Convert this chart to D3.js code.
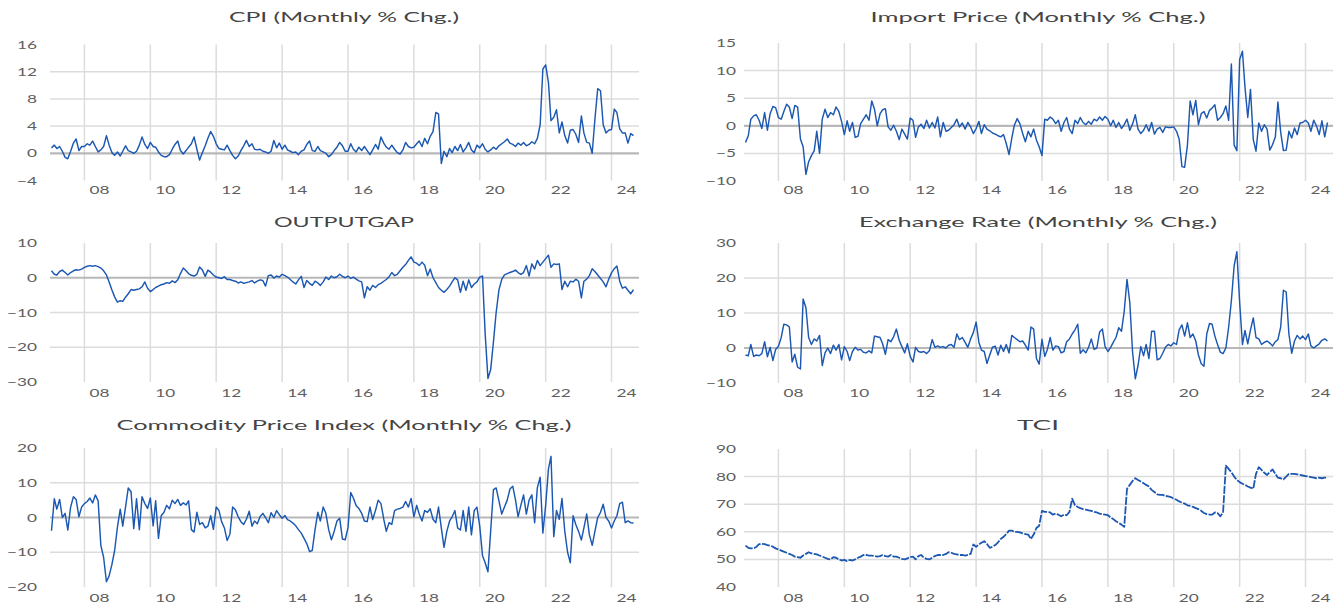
<!DOCTYPE html>
<html>
<head>
<meta charset="utf-8">
<script src="https://cdn.jsdelivr.net/npm/d3@7"></script>
<style>
  html, body { margin: 0; padding: 0; background: #ffffff; }
  svg { display: block; }
  text { font-family: Lato, "Open Sans", "Liberation Sans", sans-serif; }
</style>
</head>
<body>
<svg id="chart" width="1338" height="604"></svg>
<script>
// Monthly observations, January 2007 to September 2024 (one row per year)
const cpi = [
  0.8, 1.2, 0.7, 1.0, 0.3, -0.6, -0.8, 0.3, 1.5, 2.1, 0.4, 1.0,
  1.0, 1.4, 1.2, 1.8, 1.0, 0.2, 0.5, 1.0, 2.6, 1.2, 0.1, -0.3,
  0.2, -0.4, 0.3, 1.1, 0.4, 0.2, 0.0, 0.3, 1.2, 2.4, 1.3, 0.7,
  1.6, 1.0, 0.9, 0.2, -0.3, -0.5, -0.5, -0.2, 0.6, 1.3, 1.8, 0.4,
  -0.1, 0.4, 0.9, 1.4, 2.4, 0.6, -1.0, 0.1, 1.1, 2.2, 3.2, 2.5,
  1.4, 0.7, 0.6, 0.5, 1.2, 0.4, -0.3, -0.8, -0.4, 0.4, 1.1, 1.9,
  1.0, 1.4, 0.6, 0.5, 0.6, 0.3, 0.2, 0.0, 0.3, 1.9, 0.8, 1.5,
  0.6, 1.2, 0.5, 0.3, 0.1, 0.2, -0.2, 0.3, 0.5, 1.3, 1.8, 0.4,
  0.3, 1.0, 0.4, 0.2, 0.0, -0.5, -0.2, 0.4, 0.9, 1.6, 1.1, 0.3,
  0.3, 1.4, 0.6, 0.2, 0.9, 0.4, 1.0, 0.4, -0.2, 0.5, 1.3, 0.6,
  2.4, 1.5, 0.9, 0.6, 1.2, 0.6, 0.1, -0.1, 0.5, 1.6, 1.0, 0.8,
  0.9, 1.4, 1.8, 1.0, 2.2, 1.4, 2.5, 3.2, 6.0, 5.8, -1.5, 0.3,
  -0.5, 0.7, 0.1, 1.0, 0.4, 1.3, 0.2, 0.8, 1.6, 0.5, 0.1, 1.2,
  0.8, 1.4, 0.6, 0.2, 0.5, 0.9, 0.6, 1.1, 1.4, 1.7, 2.1, 1.5,
  1.3, 1.0, 1.5, 1.2, 1.6, 1.1, 1.3, 1.7, 1.4, 2.2, 4.2, 12.4,
  13.0, 10.4, 4.8, 5.3, 6.4, 3.0, 4.6, 2.6, 1.5, 3.4, 3.5, 2.8,
  1.6, 5.5, 3.0, 1.6, 1.5, 0.0, 5.0, 9.5, 9.2, 4.2, 3.0, 3.4,
  3.5, 6.5, 6.0, 3.6, 3.0, 3.0, 1.5, 2.9, 2.6
];

const importPrice = [
  -3.0, -1.8, 1.2, 1.8, 2.0, 1.0, -0.5, 2.4, -0.8, 2.2, 3.5, 3.3,
  1.5, 1.2, 2.6, 3.9, 3.4, 1.3, 3.7, 3.4, -2.4, -3.8, -8.8, -6.5,
  -5.4, -4.5, -1.0, -5.0, 1.2, 3.0, 1.5, 2.4, 2.0, 3.4, 2.6, 0.8,
  -1.6, 0.9, -1.0, 0.6, -2.1, -1.9, 0.4, 1.2, 2.0, 1.0, 4.5, 3.0,
  0.0, 2.2, 2.9, 3.1, -0.2, -0.8, 0.1, -1.0, -2.5, -0.6, -1.5, -2.4,
  1.4, 1.0, -2.1, -0.2, 0.3, -0.5, 1.0, -0.4, 0.6, -0.4, 1.6, -2.0,
  0.6, -1.0, -0.8, -0.3, 0.2, 1.2, -0.2, 0.5, -0.6, 0.6, -0.2, -1.4,
  -0.5, 0.8, -1.4, 0.2, -0.6, -0.9, -1.3, -1.5, -1.8, -2.0, -1.6, -3.2,
  -5.2, -2.2, 0.1, 1.3, 0.4, -1.4, -2.9, -1.0, -2.0, -0.6, -2.6, -3.8,
  -5.4, 1.2, 1.0, 1.6, 1.2, 0.4, 1.0, -1.0, 0.6, 1.5, -0.6, -1.4,
  1.0, 0.4, 1.5, 0.6, 0.2, 0.8, 0.3, 1.2, 0.9, 1.6, 1.0, 1.7,
  1.2, 0.0, 1.0, -0.3, 0.6, -0.5, 0.2, 1.2, -0.8, 0.3, 2.0, -0.6,
  -1.4, -0.8, 0.2, -1.0, 0.6, -1.5, -0.6, -0.3, -1.2, -0.2, -0.3, -0.3,
  -0.2, -1.0, -2.4, -7.4, -7.5, -3.5, 4.5, 2.0, 4.6, 0.2, 2.2, 2.6,
  1.4, 2.8, 3.2, 3.8, 1.0, 1.5, 2.2, 3.6, 1.0, 11.2, -3.5, -4.5,
  12.0, 13.5, 7.0, 1.5, 6.6, -2.5, -4.6, 0.5, -1.0, 0.2, -0.6, -4.4,
  -3.4, -2.0, 4.3, -1.2, -4.5, -4.4, -1.0, -2.2, -0.4, -1.6, 0.5, 0.6,
  1.0, 0.5, -1.0, 1.0, 0.0, -1.6, 0.9, -2.0, 0.6
];

const outputGap = [
  2.0, 1.0, 0.8, 1.8, 2.2, 1.5, 0.8, 1.5, 2.0, 2.3, 2.2, 2.5,
  3.0, 3.3, 3.5, 3.3, 3.5, 3.2, 2.8, 2.0, 0.8, -1.2, -3.5, -5.5,
  -7.0, -6.6, -6.8, -5.6, -4.6, -3.4, -3.6, -3.4, -3.2, -2.6, -1.2, -3.0,
  -4.0, -3.4, -2.8, -2.4, -2.0, -1.8, -1.4, -1.6, -0.9, -1.4, -0.6, 1.2,
  2.8, 2.0, 1.2, 0.7, 0.5, 1.0, 3.1, 2.2, 0.4, 2.2, 1.6, 0.8,
  0.2, 0.0, -0.2, 0.3, -0.5, -0.5, -0.8, -1.0, -1.5, -1.2, -1.6, -1.4,
  -1.2, -0.8, -1.5, -1.0, -0.6, -0.8, -2.4, 0.6, 0.8, -0.1, 0.5, 0.2,
  1.0, 0.6, 0.2, -0.5, -1.2, -1.8, -0.6, 0.4, -2.8, -0.8, -1.6, -2.2,
  -1.0, -1.5, -2.2, -1.2, 0.2, -0.5, 0.5, 0.0, 0.3, 1.0, 0.4, 0.0,
  0.5, -0.2, 0.2, -0.4, -0.9, -1.2, -5.8, -2.6, -3.6, -2.2, -2.8, -2.0,
  -1.6, -1.0, -0.5, 0.3, 1.5, 0.6, 1.0, 2.0, 3.0, 3.8, 5.0, 6.0,
  4.5, 4.2, 3.5, 4.5, 3.6, 0.6, 2.5, 0.0, -1.4, -2.8, -3.6, -4.2,
  -3.4, -2.4, -1.2, 0.0, -0.6, -4.2, -1.0, -3.6, -0.6, -2.8, -1.8, -1.2,
  0.2, 0.5, -16.0, -29.0, -26.5, -18.5, -10.0, -3.5, -0.5, 0.8, 1.2, 1.5,
  1.8, 2.2, 1.5, 1.0, 1.5, 3.5, 0.5, 4.0, 2.5, 5.0, 3.5, 4.5,
  5.5, 6.5, 3.0, 4.0, 3.8, 4.0, -3.4, -1.0, -2.6, -1.0, -1.2, -0.4,
  -1.0, -5.8, -1.0, -0.4, 0.6, 2.6, 1.8, 0.8, -0.2, -1.2, -2.6, -0.4,
  1.4, 2.6, 3.4, -1.0, -3.0, -2.6, -3.6, -4.6, -3.4
];

const exchangeRate = [
  -2.0, -2.2, 1.0, -2.4, -2.0, -2.2, -1.6, 1.8, -2.5, 0.2, -3.6, -0.4,
  0.5, 3.0, 6.8, 6.6, 6.0, -4.0, -1.8, -5.5, -6.0, 14.0, 11.5, 3.0,
  1.0, 2.6, 2.0, 3.6, -5.0, -1.4, 0.0, -1.6, 0.8, -0.6, 1.0, -3.4,
  0.4, -1.0, -3.6, -1.0, 0.2, -0.6, -0.4, -1.2, -1.4, -0.8, -1.4, 3.4,
  3.2, 3.0, 1.2, -1.8, 2.4, 1.8, 3.2, 5.4, 2.2, 0.4, -1.4, 1.2,
  -2.4, -4.0, 0.2, -1.0, -1.2, -1.0, -1.6, -0.8, 2.4, 0.2, 0.6, 0.2,
  0.4, 0.0, 0.8, 1.0, 0.2, 4.0, 2.4, 3.0, 1.6, 0.2, 2.6, 4.4,
  7.4, 1.6, -0.6, -1.0, -4.4, -2.0, 0.2, 0.5, -2.0, 0.8, -1.0, 1.0,
  -1.4, 3.6, 3.0, 2.4, 1.8, 2.0, 0.8, -0.6, 6.0, 5.4, -3.0, -4.6,
  2.5, -2.4, -0.4, 3.0, -0.6, 0.6, 0.4, -1.4, -1.0, 1.8, 2.6, 4.0,
  5.2, 6.8, -1.5, -0.5, -1.4, 0.2, 2.6, -0.4, 0.0, 4.6, 5.4, 0.4,
  -1.0, 0.2, 1.6, 3.0, 5.8, 4.8, 10.5, 19.6, 13.0, -1.0, -8.8, -5.0,
  0.4, -2.2, 1.0, -3.0, 4.8, 4.8, -3.4, -3.0, -1.5, 0.2, 1.0, 0.6,
  1.5, 1.0, 5.2, 6.6, 3.4, 7.2, 3.0, 4.0, 2.0, -2.0, -4.5, -5.2,
  4.0, 7.0, 6.8, 3.4, 1.0, -1.2, -1.6, 0.0, 6.0, 13.5, 23.5, 27.5,
  13.0, 1.0, 5.0, 1.2, 5.2, 8.6, 3.0, 2.6, 1.0, 1.6, 2.0, 1.4,
  0.6, 1.8, 2.4, 6.0, 16.5, 16.0, 4.0, -1.5, 2.0, 3.6, 2.6, 3.4,
  2.4, 4.0, 0.6, 0.0, 0.6, 1.2, 2.2, 2.6, 2.0
];

const commodityPrice = [
  -3.8, 5.4, 2.4, 5.2, 0.0, 1.2, -3.6, 3.0, 6.0, 5.2, 0.2, 3.0,
  4.0, 4.6, 5.6, 4.2, 6.5, 4.8, -8.0, -11.5, -18.5, -16.8, -13.5, -9.5,
  -2.8, 2.4, -2.5, 3.0, 8.5, 7.4, -3.2, 5.4, -3.5, 6.0, 4.0, 2.6,
  5.6, -2.4, 4.8, -6.0, 0.5, 1.5, 3.5, 2.5, 5.0, 4.0, 5.2, 3.5,
  4.2, 3.6, 4.8, -3.5, -4.2, 1.5, -2.0, -1.5, -3.0, -2.5, 0.5, -3.4,
  3.0, 2.0, -1.2, -3.0, -6.6, -4.8, 3.0, 2.2, 0.2, -1.2, -2.0, -0.5,
  1.8, -2.5, -1.0, -1.8, 0.2, 1.2, 0.0, -1.5, 1.4, 0.0, 2.0, 0.8,
  -0.2, 0.6, -0.6, -1.0, -1.6, -2.4, -3.5, -4.5, -6.0, -7.5, -9.8, -9.5,
  -3.5, 1.5, -1.0, 3.0, 1.2, -3.5, -6.4, -4.0, -1.0, -0.2, -6.2, -6.4,
  -3.0, 7.2, 5.6, 3.4, 2.6, 1.2, -1.0, -1.2, 3.0, -0.6, 2.0, 5.0,
  4.0, -0.5, -4.0, -1.5, -2.0, 2.0, 2.4, 2.6, 3.0, 4.6, 3.0, 5.5,
  0.2, 3.5, 1.0, -1.0, 2.0, 1.5, 2.5, -0.5, -1.5, 3.0, -3.0, -8.6,
  -4.0, -1.0, 0.2, 2.0, -3.0, -3.6, 2.0, -4.0, 3.0, -5.0, 2.0, 3.0,
  -2.5, -11.0, -13.0, -15.6, -4.0, 8.0, 8.5, 4.8, 1.0, 3.0, 5.0, 8.2,
  9.0, 5.0, 0.2, 3.5, 6.5, 1.0, 5.0, 6.5, -1.5, 8.6, 11.6, -4.5,
  3.5, 14.0, 17.6, -5.5, 2.0, -0.5, 5.5, -4.0, -10.0, -13.0, 0.5, -2.0,
  -4.0, -6.5, -3.0, 1.0, -5.0, -8.0, -4.0, 0.0, 1.5, 3.8, 0.0, -1.0,
  -3.0, -1.0, 0.5, 4.0, 4.4, -1.5, -1.0, -1.5, -1.6
];

const tci = [
  55.0, 54.2, 54.0, 54.0, 54.5, 55.5, 55.6, 55.5, 55.2, 55.0, 54.6, 54.0,
  53.6, 53.2, 52.8, 52.4, 52.0, 51.6, 51.0, 50.8, 50.6, 51.4, 52.0, 52.6,
  52.2, 52.0, 51.8, 51.4, 51.0, 50.6, 50.2, 50.0, 50.8, 50.6, 50.0, 49.6,
  49.8, 49.4, 49.8, 49.6, 50.0, 50.6, 51.0, 51.6, 51.6, 51.4, 51.4, 51.2,
  51.0, 51.2, 51.6, 51.2, 51.0, 51.6, 51.0, 51.0, 50.6, 50.2, 50.0, 50.4,
  50.8, 51.0, 50.0, 51.2, 51.6, 50.6, 50.2, 50.0, 50.6, 51.2, 51.6, 51.6,
  51.6, 52.0, 52.6, 52.4, 52.0, 51.8, 51.6, 51.6, 51.4, 51.6, 52.0, 55.4,
  54.6, 55.4, 56.0, 56.6, 55.6, 54.2, 54.6, 55.2, 56.2, 57.4, 58.2, 59.2,
  60.4, 60.4, 60.0, 60.0, 59.8, 59.4, 59.2, 59.0, 57.4, 59.0, 61.4, 62.2,
  67.6, 67.2, 67.2, 67.0, 66.2, 66.6, 66.2, 65.6, 66.2, 66.0, 67.2, 72.0,
  69.6, 69.0, 68.6, 68.2, 68.0, 67.8, 67.6, 67.2, 67.0, 66.6, 66.4, 66.2,
  66.0, 65.2, 64.6, 63.8, 63.2, 62.6, 61.8, 75.6, 77.0, 78.4, 79.4, 78.8,
  78.2, 77.6, 77.0, 76.4, 75.2, 74.4, 73.6, 73.4, 73.4, 73.0, 72.8, 72.6,
  72.0, 71.6, 71.0, 70.6, 70.2, 69.6, 69.4, 69.0, 68.6, 68.2, 67.6, 66.8,
  66.4, 66.2, 66.2, 67.0, 66.8, 65.6, 67.0, 84.0, 82.8, 81.6, 80.0, 78.8,
  78.0, 77.4, 77.0, 76.4, 76.0, 75.6, 81.0, 83.4, 82.4, 81.4, 80.6, 81.6,
  82.6, 81.0, 79.6, 79.4, 79.0, 80.0, 81.0, 81.0, 81.0, 80.8, 80.6, 80.4,
  80.2, 80.0, 79.8, 79.6, 79.4, 79.6, 79.4, 79.6, 79.6
];

// Axis tick values and labels
const yearTicks = [2008, 2010, 2012, 2014, 2016, 2018, 2020, 2022, 2024];
const yearLabels = ["08", "10", "12", "14", "16", "18", "20", "22", "24"];
const cpiTicks = [-4, 0, 4, 8, 12, 16];
const importTicks = [-10, -5, 0, 5, 10, 15];
const gapTicks = [-30, -20, -10, 0, 10];
const fxTicks = [-10, 0, 10, 20, 30];
const commodityTicks = [-20, -10, 0, 10, 20];
const tciTicks = [40, 50, 60, 70, 80, 90];

const titles = [
  "CPI (Monthly % Chg.)",
  "Import Price (Monthly % Chg.)",
  "OUTPUTGAP",
  "Exchange Rate (Monthly % Chg.)",
  "Commodity Price Index (Monthly % Chg.)",
  "TCI"
];

// ---- layout ----
const colX0 = [51, 745];            // left edge of plot area per column
const colLabelRight = [37, 736];    // right edge of value labels per column
const plotW = 588;
const rows = [
  { top: [44.5, 43], bottom: [180.5, 181], xLabelY: 194, titleY: 22 },
  { top: [243, 243], bottom: [382, 383], xLabelY: 397, titleY: 227 },
  { top: [448, 449], bottom: [587, 587], xLabelY: 602, titleY: 430 }
];
const titleWidths = [230, 335, 140, 358, 455, 42];
const textStretch = 1.5;

const panels = [
  { title: titles[0], values: cpi, ticks: cpiTicks, row: 0, col: 0 },
  { title: titles[1], values: importPrice, ticks: importTicks, row: 0, col: 1 },
  { title: titles[2], values: outputGap, ticks: gapTicks, row: 1, col: 0 },
  { title: titles[3], values: exchangeRate, ticks: fxTicks, row: 1, col: 1 },
  { title: titles[4], values: commodityPrice, ticks: commodityTicks, row: 2, col: 0 },
  { title: titles[5], values: tci, ticks: tciTicks, row: 2, col: 1, dashed: true }
];

const svg = d3.select("#chart");
const lineColor = "#1c58b2";

panels.forEach((p, i) => {
  const x0 = colX0[p.col];
  const r = rows[p.row];
  const yTop = r.top[p.col], yBot = r.bottom[p.col];
  const g = svg.append("g");

  const x = d3.scaleTime()
    .domain([new Date(2007, 0, 1), new Date(2024, 0, 1)])
    .range([x0 + 0.5, x0 + 560.5]);
  const y = d3.scaleLinear()
    .domain([d3.min(p.ticks), d3.max(p.ticks)])
    .range([yBot, yTop]);

  const dates = p.values.map((_, k) => new Date(2007, k, 1));

  // vertical gridlines (every two years)
  g.selectAll("line.vgrid").data(yearTicks).enter().append("line")
    .attr("x1", d => x(new Date(d, 0, 1))).attr("x2", d => x(new Date(d, 0, 1)))
    .attr("y1", yTop).attr("y2", yBot)
    .attr("stroke", "#dcdcdc").attr("stroke-width", 1.5);

  // horizontal gridlines (inner ticks only), zero line emphasised
  const inner = p.ticks.filter(t => t !== d3.min(p.ticks) && t !== d3.max(p.ticks));
  g.selectAll("line.hgrid").data(inner).enter().append("line")
    .attr("x1", x0 - 1).attr("x2", x0 + plotW)
    .attr("y1", d => y(d)).attr("y2", d => y(d))
    .attr("stroke", d => d === 0 ? "#b8b8b8" : "#dcdcdc")
    .attr("stroke-width", d => d === 0 ? 2.2 : 1.5);

  // value labels
  g.selectAll("text.ylab").data(p.ticks).enter().append("text")
    .attr("transform", d => `translate(${colLabelRight[p.col]},${y(d) + 4}) scale(${textStretch},1)`)
    .attr("text-anchor", "end")
    .attr("font-size", 11.5)
    .attr("fill", "#5e5e5e")
    .text(d => d3.format("d")(d));

  // year labels
  g.selectAll("text.xlab").data(yearTicks).enter().append("text")
    .attr("transform", d => `translate(${x(new Date(d, 0, 1)) + 15},${r.xLabelY}) scale(${textStretch},1)`)
    .attr("text-anchor", "middle")
    .attr("font-size", 11.5)
    .attr("fill", "#5e5e5e")
    .text((d, k) => yearLabels[k]);

  // title
  const cx = x0 + 293;
  g.append("text")
    .attr("x", cx - titleWidths[i] / 2)
    .attr("y", r.titleY)
    .attr("font-size", 13.5)
    .attr("fill", "#444444")
    .attr("textLength", titleWidths[i])
    .attr("lengthAdjust", "spacingAndGlyphs")
    .text(p.title);

  // series line
  const line = d3.line()
    .x((d, k) => x(dates[k]))
    .y(d => y(d));
  g.append("path")
    .datum(p.values)
    .attr("fill", "none")
    .attr("stroke", lineColor)
    .attr("stroke-width", p.dashed ? 1.8 : 1.45)
    .attr("stroke-linejoin", "round")
    .attr("stroke-dasharray", p.dashed ? "8 1.4" : null)
    .attr("d", line);
});
</script>
</body>
</html>
